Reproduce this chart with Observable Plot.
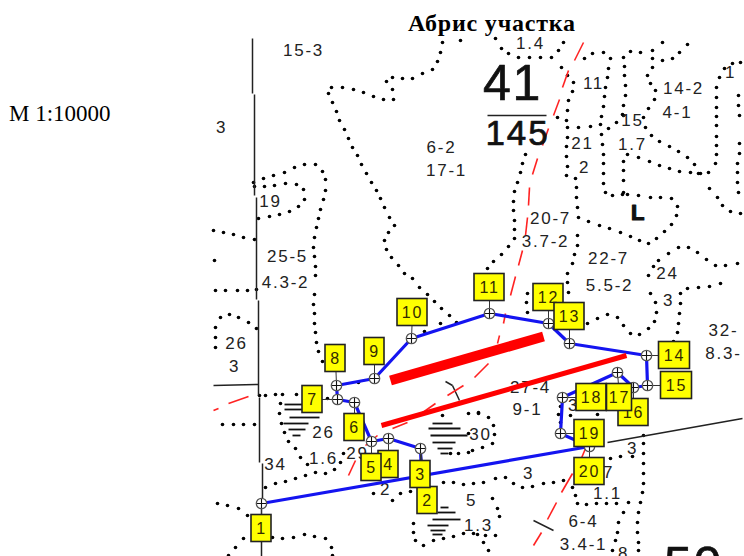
<!DOCTYPE html>
<html><head><meta charset="utf-8">
<script src="https://cdn.jsdelivr.net/npm/d3@7"></script>
<script src="https://cdn.jsdelivr.net/npm/@observablehq/plot@0.6"></script>
<style>
html,body{margin:0;padding:0;background:#fff}
#wrap{position:relative;width:744px;height:556px;overflow:hidden}
#title{position:absolute;left:0;top:10px;width:984px;text-align:center;font:bold 24px "Liberation Serif",serif;letter-spacing:.8px;color:#000;pointer-events:none}
#scale{position:absolute;left:9px;top:101px;font:23px "Liberation Serif",serif;color:#000}
#wrap svg{display:block}
</style></head><body>
<div id="wrap"><div id="chart"></div><div id="title">Абрис участка</div><div id="scale">М 1:10000</div></div>
<script>
// Map-plane coordinates
const corners=[[261,503],[589,446],[560,433],[562,397],[617,372],[633,387],[647,385],[646,355],[569,343],[548,323],[489,313],[411,338],[374,378],[336,385],[337,399],[354,402],[371,441],[388,438],[420,448]];
const boundaryEnd=[[421,474]];
const tags=[["1",261,528,20,27,261,503],["2",427,500,20,27,420,448],["3",420,474,20,27,420,448],["4",388,464,20,27,388,438],["5",371,467,20,27,371,441],["6",354,427,20,27,354,402],["7",312,399,20,27,337,399],["8",335,358,20,27,336,385],["9",374,351,20,27,374,378],["10",412,312,30,27,411,338],["11",489,287,30,27,489,313],["12",548,297,30,27,548,323],["13",569,316,30,27,569,343],["14",674,355,31,27,646,355],["15",676,385,31,27,647,385],["16",633,412,30,27,633,387],["18",591,397,30,27,562,397],["17",619,397,25,27,617,372],["19",589,433,30,27,560,433],["20",589,471,30,27,589,446]];
const blackLines=[[252,38,252,93],[254,94,254,195],[256,197,256,299],[258,300,258,395],[259,397,259,462],[262,463,262,503],[261,503,261,556],[213,385,258,384],[607,442,742,418],[487,115,546,115],[445,381,452,385],[452,385,459,400],[533,520,553,530]];
const redDashes=[[583,42,574,60],[568,70,562,87],[559,99,553,115],[548,128,542,145],[537,158,532,174],[529,187,528,205],[527,217,525,235],[522,250,518,265],[515,276,510,295],[505,313,503,323],[499,335,497,343],[488,363,474,377],[463,385,447,395],[435,403,418,415],[407,422,392,428],[377,435,365,445],[355,460,348,475],[248,396,228,403],[218,408,213,410],[585,448,580,460],[572,473,561,492],[556,502,547,519],[541,532,533,545]];
const redBars=[[390,380,543,336,10],[381,425,626,355,5]];
const hatch=[[284,404,302,404],[284,409,302,409],[289,417,319,417],[283,423,308,423],[288,429,305,429],[292,435,300,435],[432,423,452,423],[428,428,460,428],[430,435,467,435],[432,442,455,442],[437,448,452,448],[440,453,448,453],[440,507,448,507],[437,512,455,512],[432,519,460,519],[427,525,448,525],[430,530,445,530],[432,534,442,534]];
const mapLabels=[["15-3",303,50],["3",221,127],["6-2",441,147],["17-1",446,170],["19",270,201],["25-5",287,256],["4.3-2",285,282],["26",236,343],["3",234,366],["26",323,432],["1.6",323,458],["29",357,453],["34",275,464],["30",480,434],["2",385,489],["5",471,500],["1.3",478,525],["1.4",530,43],["11",593,83],["14-2",683,88],["4-1",677,112],["15",632,120],["1.7",632,144],["21",582,143],["2",584,167],["1",730,72],["20-7",550,218],["3.7-2",545,241],["22-7",608,258],["5.5-2",609,285],["24",667,273],["3",668,300],["32-",723,330],["8.3-",723,353],["27-4",530,387],["9-1",527,409],["3",573,405],["3",632,448],["7",608,472],["3",528,473],["1.1",607,493],["6-4",583,521],["3.4-1",583,544],["8",623,553]];
const bigLabels=[["41",512,83,50],["145",517,133,35],["L",638,212,22],["50",693,565,50]];
const contourA=[[460,40],[442,42],[440,52],[437,61],[432,69],[422,73],[412,78],[402,78],[392,77],[386,81],[392,89],[393,99],[383,99],[373,96],[363,92],[353,89],[342,87],[331,87],[328,93],[332,102],[336,111],[339,120],[344,129],[348,138],[352,147],[357,155],[361,164],[366,173],[371,182],[376,190],[380,198],[384,207],[389,217],[394,225],[388,232],[384,240],[386,249],[391,257],[398,265],[404,273],[412,278],[419,287],[427,294],[434,301],[441,308],[449,315]];
const contourB=[[253,182],[263,178],[273,175],[284,172],[294,167],[304,164],[315,164],[322,171],[325,179],[325,190],[323,199],[320,209],[318,218],[316,227],[314,237],[313,247],[314,256],[315,266],[315,275],[314,294],[313,304],[314,313],[314,323],[315,332],[316,342],[318,351],[322,361]];
const contourC=[[254,186],[264,186],[274,185],[285,183],[296,184],[303,189],[304,199],[298,206],[289,211],[279,214],[269,216],[258,218]];
const contourD=[[213,230],[223,232],[233,234],[243,237],[254,239],[214,260],[215,290],[225,290],[237,290],[247,290],[256,289]];
const contourF=[[215,347],[215,337],[215,327],[220,317],[229,314],[238,317],[248,322],[256,328],[222,424],[233,424],[243,424],[254,424]];
const contourH=[[259,395],[265,395],[275,394],[282,394],[296,394],[327,398],[280,403],[279,413],[281,423],[284,432],[288,441],[295,448],[300,457],[307,464],[315,472],[325,473],[334,469],[340,462],[343,453],[265,487],[275,483],[285,481],[295,478],[305,475]];
const contourK=[[217,503],[227,505],[238,508],[247,515],[228,555],[235,547],[243,538],[272,537],[282,538],[293,537],[304,534],[314,536],[325,538],[331,547],[332,555]];
const contourN=[[373,493],[392,500],[400,493],[410,491],[443,482],[453,482],[463,484],[473,483],[413,523],[413,532],[415,540],[423,545],[433,540],[443,538],[453,536],[463,533],[473,533],[492,498],[497,508],[499,516],[495,535],[485,535],[477,534],[483,542],[488,550]];
const contourO=[[442,415],[468,413],[478,413],[468,433],[468,452],[450,453],[458,453],[488,417],[493,425],[494,434],[492,443],[482,447],[472,450],[478,412]];
const contourP=[[495,38],[501,48],[508,53],[518,57],[529,57],[540,57],[551,57],[558,50],[563,42]];
const contourQ=[[561,67],[567,75],[573,82],[572,91],[568,100],[567,110],[566,120],[567,127],[567,137],[566,146],[566,156],[567,166],[566,175],[575,178],[576,187],[576,197],[577,207],[578,217],[577,235],[577,245],[574,254],[572,263],[567,273],[557,117],[578,127],[590,126],[600,124],[608,128],[616,122],[622,114]];
const contourS=[[584,58],[592,53],[603,52],[610,58],[608,68],[607,77],[605,87],[604,96],[603,106],[601,116],[601,134],[602,144],[603,154],[603,163],[603,173],[603,183],[605,192],[612,195],[622,194]];
const contourT=[[623,57],[630,51],[640,52],[652,50],[662,42],[624,66],[624,75],[625,85],[625,95],[623,105],[623,115]];
const contourU=[[623,161],[623,170],[623,180],[623,192],[627,194],[638,195],[650,197],[660,197],[671,198],[677,206],[676,215],[671,224],[664,231],[656,238],[648,243],[639,240],[630,236],[620,232],[609,228],[599,225],[588,221]];
const contourV=[[652,58],[652,67],[647,75],[650,83],[655,90],[654,99],[648,108],[643,117],[645,127],[651,135],[659,141],[669,146],[678,151],[687,157],[694,164],[700,173],[709,188],[717,197],[722,205],[730,211],[740,213],[662,60],[672,58],[679,52],[687,44]];
const contourW=[[627,154],[638,157],[649,161],[659,165],[669,168],[679,171],[690,172],[698,173],[708,172],[715,163],[716,154],[716,145],[716,136],[716,125],[716,116],[716,107],[716,97],[716,87],[719,77],[724,68],[732,63],[740,62],[738,95],[738,105],[739,115],[739,143],[739,153],[737,163],[737,172],[737,182],[738,192]];
const contourZ=[[525,154],[522,163],[520,172],[517,182],[514,191],[513,201],[513,210],[514,220],[514,229],[514,238],[508,246],[501,254],[493,261],[487,268]];
const contourAA=[[658,260],[668,253],[678,247],[688,247],[697,252],[706,259],[715,265],[725,265],[737,263],[653,266],[648,275],[650,293],[655,302],[656,312],[654,321],[648,328],[639,334],[630,333],[623,325],[617,317],[607,314],[597,318],[587,323]];
const contourAC=[[687,288],[698,287],[709,286],[720,283],[680,293],[680,303],[679,313],[678,323],[677,332],[673,341],[527,293],[526,302],[527,312],[567,282],[568,292]];
const contourAD=[[643,435],[643,443],[643,453],[643,463],[643,473],[643,483],[642,492],[640,502],[638,512],[637,522],[637,532],[638,542],[638,550],[610,458],[620,456],[632,456]];
const contourAE=[[483,482],[495,478],[505,477],[513,483],[522,487],[532,486],[543,483],[553,482],[563,480],[572,487],[575,495],[577,503],[586,504],[596,503],[606,503],[616,503],[628,502],[623,512],[618,522],[617,532],[615,540],[612,550]];
const contourBlue=[[456,322],[440,323],[424,331],[358,382],[570,415],[558,414],[560,406],[560,422],[597,414]];

const dots=[contourA,contourB,contourC,contourD,contourF,contourH,contourK,contourN,contourO,contourP,contourQ,contourS,contourT,contourU,contourV,contourW,contourZ,contourAA,contourAC,contourAD,contourAE,contourBlue].flat();
const sans="Liberation Sans";
const chart=Plot.plot({width:744,height:556,margin:0,
 x:{domain:[0,744],range:[0,744],axis:null},
 y:{domain:[0,556],range:[0,556],axis:null},
 style:{background:"#fff",letterSpacing:"1.8px"},
 marks:[
  Plot.dot(dots,{x:d=>d[0],y:d=>d[1],r:1.8,fill:"#000",stroke:"none"}),
  Plot.link(blackLines,{x1:d=>d[0],y1:d=>d[1],x2:d=>d[2],y2:d=>d[3],stroke:"#222",strokeWidth:1.5}),
  Plot.link(hatch,{x1:d=>d[0],y1:d=>d[1],x2:d=>d[2],y2:d=>d[3],stroke:"#111",strokeWidth:1.8}),
  Plot.link(redDashes,{x1:d=>d[0],y1:d=>d[1],x2:d=>d[2],y2:d=>d[3],stroke:"#f22",strokeWidth:1.6}),
  Plot.text(mapLabels,{x:d=>d[1],y:d=>d[2],text:d=>d[0],fontSize:17,fontFamily:sans,fill:"#222"}),
  ...bigLabels.map(b=>Plot.text([b],{x:d=>d[1],y:d=>d[2],text:d=>d[0],fontSize:b[3],fontFamily:sans,fill:"#111",stroke:"#111",strokeWidth:b[0]==="L"?1.2:0.7,fontWeight:b[0]==="L"?"bold":"normal"})),
  Plot.line([...corners,...boundaryEnd],{x:d=>d[0],y:d=>d[1],stroke:"#1414f0",strokeWidth:3.2}),
  Plot.link(redBars.slice(0,1),{x1:d=>d[0],y1:d=>d[1],x2:d=>d[2],y2:d=>d[3],stroke:"#f00",strokeWidth:d=>d[4]}),
  Plot.link(redBars.slice(1),{x1:d=>d[0],y1:d=>d[1],x2:d=>d[2],y2:d=>d[3],stroke:"#f00",strokeWidth:d=>d[4]}),
  Plot.link(tags,{x1:d=>d[1],y1:d=>d[2],x2:d=>d[5],y2:d=>d[6],stroke:"#333",strokeWidth:1}),
  Plot.dot(corners,{x:d=>d[0],y:d=>d[1],r:5.2,fill:"#fff",stroke:"#555",strokeWidth:1.3}),
  Plot.dot(corners,{x:d=>d[0],y:d=>d[1],r:3,symbol:"plus",stroke:"#111",strokeWidth:1.1}),
  ...tags.flatMap(t=>[
   Plot.rect([t],{x1:d=>d[1]-d[3]/2,x2:d=>d[1]+d[3]/2,y1:d=>d[2]-d[4]/2,y2:d=>d[2]+d[4]/2,fill:"#ffff00",stroke:"#222",strokeWidth:1.6}),
   Plot.text([t],{x:d=>d[1],y:d=>d[2],text:d=>d[0],fontSize:16,fontFamily:sans,fill:"#332b00"})
  ])
 ]});
document.getElementById("chart").append(chart);
</script>
</body></html>
